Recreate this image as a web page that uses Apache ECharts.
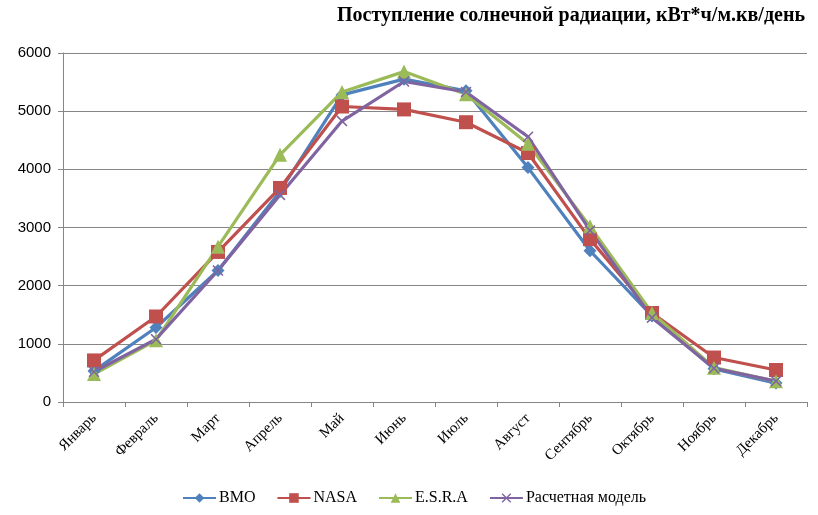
<!DOCTYPE html>
<html><head><meta charset="utf-8">
<script src="https://cdn.jsdelivr.net/npm/echarts@6/dist/echarts.min.js"></script>
<style>html,body{margin:0;padding:0;background:#fff}#c{width:818px;height:515px}</style>
</head><body><div id="c"></div>
<script>
var months = ['Январь','Февраль','Март','Апрель','Май','Июнь','Июль','Август','Сентябрь','Октябрь','Ноябрь','Декабрь'];
var bmo   = [535, 1280, 2260, 3620, 5280, 5550, 5350, 4030, 2600, 1480, 570, 325];
var nasa  = [715, 1470, 2580, 3680, 5080, 5030, 4810, 4280, 2800, 1530, 765, 550];
var esra  = [480, 1060, 2670, 4250, 5330, 5680, 5290, 4440, 3020, 1530, 590, 355];
var model = [520, 1080, 2260, 3560, 4830, 5510, 5330, 4560, 2950, 1450, 580, 360];
var yTicks = [0, 1000, 2000, 3000, 4000, 5000, 6000];

var crossPath = 'path://M0,1 L1,0 L5,4 L9,0 L10,1 L6,5 L10,9 L9,10 L5,6 L1,10 L0,9 L4,5 Z';

function s(name, data, color, symbol, size) {
  return {
    name: name, type: 'line', data: data, symbol: symbol, symbolSize: size,
    color: color, lineStyle: {width: 3.2, color: color},
    itemStyle: {color: color}, animation: false, z: 3
  };
}

var chart = echarts.init(document.getElementById('c'), null, {renderer: 'canvas'});
chart.setOption({
  backgroundColor: '#fff',
  title: {
    text: 'Поступление солнечной радиации, кВт*ч/м.кв/день',
    right: 8, top: 1,
    textStyle: {fontFamily: 'Liberation Serif', fontWeight: 'bold', fontSize: 20, color: '#000'}
  },
  grid: {left: 63, right: 11, top: 53, bottom: 113},
  legend: {
    top: 490, left: 182, padding: 0, itemWidth: 33, itemHeight: 12, itemGap: 21,
    textStyle: {fontFamily: 'Liberation Serif', fontSize: 16, color: '#000', padding: [0, 0, 0, -2]},
    data: ['ВМО', 'NASA', 'E.S.R.A', 'Расчетная модель']
  },
  xAxis: {
    type: 'category', data: months, boundaryGap: true,
    axisLine: {lineStyle: {color: '#868686', width: 1}},
    axisTick: {show: true, alignWithLabel: false, length: 5, lineStyle: {color: '#868686'}},
    axisLabel: {rotate: 45, fontFamily: 'Liberation Serif', fontSize: 15, color: '#000', margin: 14, interval: 0}
  },
  yAxis: {
    type: 'value', min: yTicks[0], max: yTicks[yTicks.length - 1], interval: 1000,
    axisLine: {show: true, lineStyle: {color: '#868686'}},
    axisTick: {show: true, length: 5, lineStyle: {color: '#868686'}},
    splitLine: {lineStyle: {color: '#868686', width: 1}},
    axisLabel: {fontFamily: 'Liberation Sans', fontSize: 15, color: '#000', margin: 12,
      formatter: function (v) { return String(v); }}
  },
  series: [
    s('ВМО', bmo, '#4F81BD', 'diamond', 13),
    s('NASA', nasa, '#C0504D', 'rect', 14),
    s('E.S.R.A', esra, '#9BBB59', 'triangle', 14),
    s('Расчетная модель', model, '#8064A2', crossPath, 11)
  ]
});
</script></body></html>
